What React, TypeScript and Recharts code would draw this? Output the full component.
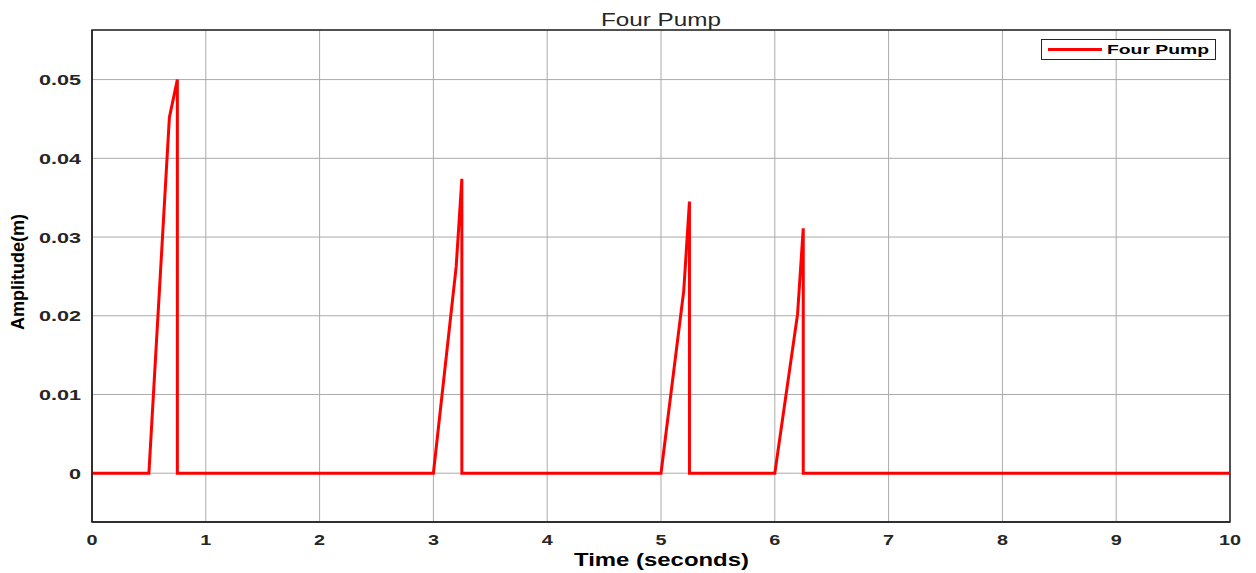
import React from 'react';
import { LineChart, Line, XAxis, YAxis, CartesianGrid, ReferenceArea, Customized } from 'recharts';

// time (s) and pump amplitude (m)
const timeS = [0, 0.5, 0.68, 0.75, 0.75, 3.0, 3.2, 3.25, 3.25, 5.0, 5.2, 5.25, 5.25, 6.0, 6.2, 6.25, 6.25, 10];
const amplitude = [0, 0, 0.0452, 0.05, 0, 0, 0.0262, 0.0374, 0, 0, 0.0232, 0.0345, 0, 0, 0.0202, 0.0311, 0, 0];
const xTicks = [0, 1, 2, 3, 4, 5, 6, 7, 8, 9, 10];
const yTicks = [0, 0.01, 0.02, 0.03, 0.04, 0.05];
const seriesName = 'Four Pump';

const data = timeS.map((t, i) => ({ t, amp: amplitude[i] }));

const FONT = '"Liberation Sans", Arial, sans-serif';

// rough Arial-bold advance widths, used to stretch text like the original
const boldW: Record<string, number> = { '.': 0.278, '(': 0.333, ')': 0.333, ' ': 0.278 };
const textWidth = (s: string, size: number) =>
  s.split('').reduce((acc, c) => acc + (boldW[c] ?? 0.556), 0) * size;

const XTick: React.FC<any> = ({ x, y, payload }) => {
  const s = String(payload.value);
  const len = textWidth(s, 15) * 1.32;
  return (
    <text x={x - len / 2} y={y + 15} textLength={len} lengthAdjust="spacingAndGlyphs"
      fontFamily={FONT} fontWeight="bold" fontSize={15} fill="#262626">{s}</text>
  );
};

const YTick: React.FC<any> = ({ x, y, payload }) => {
  const s = payload.value === 0 ? '0' : Number(payload.value).toFixed(2);
  const len = textWidth(s, 15) * 1.44;
  return (
    <text x={x - len} y={y + 5.5} textLength={len} lengthAdjust="spacingAndGlyphs"
      fontFamily={FONT} fontWeight="bold" fontSize={15} fill="#262626">{s}</text>
  );
};

const LegendBox = () => (
  <g transform="translate(1041 39)">
    <rect x={0.5} y={0.5} width={174} height={20} fill="#fff" stroke="#262626" strokeWidth={1} />
    <line x1={7} x2={61} y1={10.5} y2={10.5} stroke="#ff0000" strokeWidth={3} />
    <text x={66} y={15} textLength={102} lengthAdjust="spacingAndGlyphs"
      fontFamily={FONT} fontWeight="bold" fontSize={13} fill="#000">{seriesName}</text>
  </g>
);

const Title = () => (
  <text x={601} y={26} textLength={120} lengthAdjust="spacingAndGlyphs"
    fontFamily={FONT} fontSize={18} fill="#262626">Four Pump</text>
);

export default function App() {
  return (
    <div style={{ position: 'absolute', left: 0, top: 0, background: '#fff' }}>
      <LineChart width={1256} height={573} data={data}
        margin={{ top: 30, right: 26, bottom: 0, left: 0 }}>
        <CartesianGrid stroke="#aaaaaa" strokeWidth={1} />
        <XAxis dataKey="t" type="number" domain={[0, 10]} ticks={xTicks} interval={0}
          allowDecimals={false} tick={<XTick />} tickLine={false}
          axisLine={{ stroke: '#262626', strokeWidth: 1.5 }} height={51}
          label={({ viewBox }: any) => (
            <text x={viewBox.x + viewBox.width / 2 - 87} y={566} textLength={175} lengthAdjust="spacingAndGlyphs"
              fontFamily={FONT} fontWeight="bold" fontSize={18} fill="#000">Time (seconds)</text>
          )} />
        <YAxis type="number" domain={[-0.0062, 0.0563]} ticks={yTicks} interval={0}
          width={92} tick={<YTick />} tickLine={false} tickMargin={5}
          axisLine={{ stroke: '#262626', strokeWidth: 1.5 }}
          label={() => (
            <text x={0} y={0} transform="translate(24 272) rotate(-90)" textAnchor="middle"
              fontFamily={FONT} fontWeight="bold" fontSize={18} fill="#000">Amplitude(m)</text>
          )} />
        <ReferenceArea x1={0} x2={10} y1={-0.0062} y2={0.0563} fill="none"
          stroke="#262626" strokeWidth={1.5} ifOverflow="extendDomain" />
        <Line dataKey="amp" name={seriesName} type="linear" stroke="#ff0000" strokeWidth={3}
          dot={false} isAnimationActive={false} />
        <Customized component={Title} />
        <Customized component={LegendBox} />
      </LineChart>
    </div>
  );
}
